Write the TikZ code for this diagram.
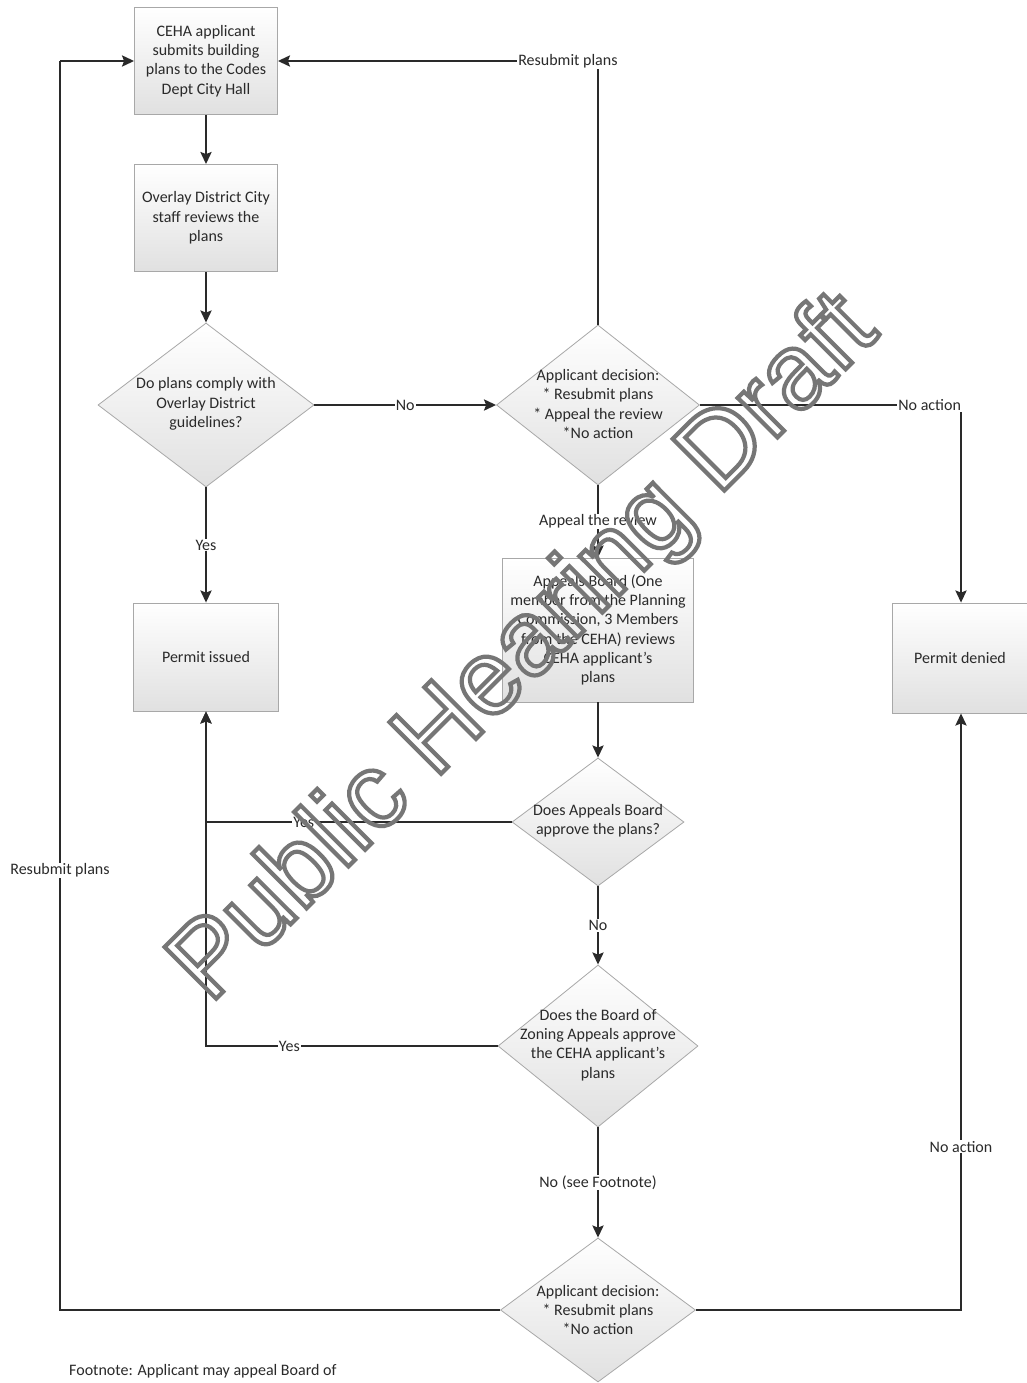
\documentclass[tikz,border=0pt]{standalone}
\usepackage{fontspec}
\setmainfont{Carlito}
\newfontfamily\wmfont{Liberation Sans}
\usetikzlibrary{shapes.geometric,arrows.meta,calc}
\definecolor{ink}{HTML}{2A2A2A}
\definecolor{edgec}{HTML}{A8A8A8}
\definecolor{wmc}{HTML}{767676}
\newcommand{\outlinetext}[1]{\special{pdf:literal direct 1 Tr 4.2 w}#1\special{pdf:literal direct 0 Tr}}
\begin{document}
\begin{tikzpicture}[x=1pt,y=-1pt,
  every node/.style={font=\fontsize{16}{19.3}\selectfont, text=ink},
  box/.style={draw=edgec, line width=0.8pt, top color=white, bottom color=black!12, align=center, inner sep=2pt},
  dec/.style={diamond, draw=edgec, line width=0.8pt, top color=white, bottom color=black!12, inner sep=0pt},
  txt/.style={align=center, inner sep=0pt},
  conn/.style={draw=ink, line width=2.5pt, -{Stealth[length=12pt,width=11pt,inset=2pt]}},
  plain/.style={draw=ink, line width=2.5pt},
  lbl/.style={fill=white, inner sep=1pt}
]
\useasboundingbox (0,0) rectangle (1026,1383);
\fill[white] (0,0) rectangle (1026,1383);

% boxes
\node[box, minimum width=143pt, minimum height=107pt] (b1) at (206,61) {CEHA applicant\\submits building\\plans to the Codes\\Dept City Hall};
\node[box, minimum width=143pt, minimum height=107pt] (b2) at (206,218) {Overlay District City\\staff reviews the\\plans};
\node[box, minimum width=145pt, minimum height=108pt] (pi) at (206,657) {Permit issued};
\node[box, minimum width=191pt, minimum height=144pt] (ab) at (598,630) {Appeals Board (One\\member from the Planning\\Commission, 3 Members\\from the CEHA) reviews\\CEHA applicant's\\plans};
\node[box, minimum width=138pt, minimum height=110pt] (pd) at (961,658) {};
\node[txt] (pdt) at (960,658) {Permit denied};

% diamonds
\node[dec, minimum width=216pt, minimum height=164pt] (d1) at (206,405) {};
\node[txt] (d1t) at (206,404) {Do plans comply with\\Overlay District\\guidelines?};
\node[dec, minimum width=203pt, minimum height=160pt] (d2) at (598,405) {};
\node[txt] (d2t) at (598,404) {Applicant decision:\\* Resubmit plans\\* Appeal the review\\*No action};
\node[dec, minimum width=172pt, minimum height=128pt] (d3) at (598,822) {};
\node[txt] (d3t) at (598,821) {Does Appeals Board\\approve the plans?};
\node[dec, minimum width=200pt, minimum height=162pt] (d4) at (598,1046) {};
\node[txt] (d4t) at (598,1045) {Does the Board of\\Zoning Appeals approve\\the CEHA applicant's\\plans};
\node[dec, minimum width=195pt, minimum height=144pt] (d5) at (598,1310) {};
\node[txt] (d5t) at (598,1310) {Applicant decision:\\* Resubmit plans\\*No action};

\node[anchor=west, inner sep=0pt] (fn) at (69,1371) {Footnote: Applicant may appeal Board of};

\coordinate (lft) at (60,61);

% connectors
\draw[conn] (b1.south) -- (b2.north);
\draw[conn] (b2.south) -- (d1.north);
\draw[conn] (d1.east) -- node[lbl]{No} (d2.west);
\draw[conn] (d2.north) |- node[lbl, pos=0.547]{Resubmit plans} (b1.east);
\draw[conn] (d2.east) -| node[lbl, pos=0.44]{No action} (pd.north);
\draw[conn] (d2.south) -- node[lbl]{Appeal the review} (ab.north);
\draw[conn] (d1.south) -- node[lbl]{Yes} (pi.north);
\draw[conn] (ab.south) -- (d3.north);
\draw[conn] (d3.west) -| node[lbl, pos=0.34]{Yes} (pi.south);
\draw[conn] (d3.south) -- node[lbl]{No} (d4.north);
\draw[conn] (d4.west) -| node[lbl, pos=0.357]{Yes} (pi.south);
\draw[conn] (d4.south) -- node[lbl]{No (see Footnote)} (d5.north);
\draw[conn] (d5.east) -| node[lbl, pos=0.637]{No action} (pd.south);
\draw[plain] (d5.west) -| node[lbl, pos=0.676]{Resubmit plans} (lft);
\draw[conn] (lft) -- (b1.west);

% watermark
\node[rotate=45, inner sep=0pt, text=wmc] (wm) at (526,650) {\wmfont\fontsize{106}{106}\selectfont\outlinetext{Public Hearing Draft}};
\end{tikzpicture}
\end{document}
